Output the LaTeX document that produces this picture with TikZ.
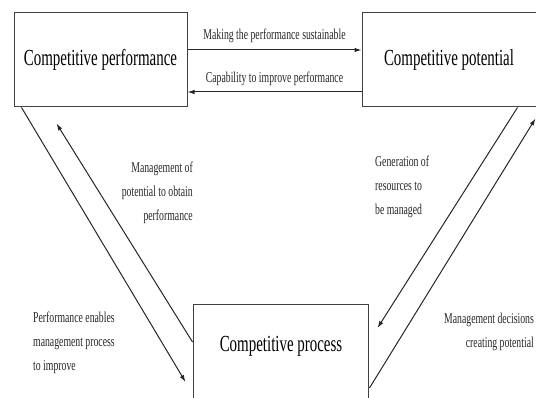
\documentclass[tikz,border=0pt]{standalone}
\usepackage{fontspec}
\usetikzlibrary{arrows.meta}
\newfontfamily\figfont[FakeStretch=0.65]{Liberation Serif}
\newcommand{\boxfont}{\figfont\fontsize{23}{26}\selectfont}
\newcommand{\lblfont}{\figfont\fontsize{15}{24}\selectfont}

\begin{document}
\begin{tikzpicture}[x=1pt,y=-1pt,>={Latex[length=7pt,width=4.5pt]},
  box/.style={draw=black!75,line width=1pt,minimum width=173pt,minimum height=94pt,inner sep=0pt,font=\boxfont},
  lbl/.style={inner sep=0pt,font=\lblfont,text=black!85},
  link/.style={->,line width=1pt,black!85}]
  \useasboundingbox (0,0) rectangle (536,398);
  \node[box] (perf) at (100.5,60) {Competitive performance};
  \node[box,minimum width=179pt] (pot) at (451.5,60) {};
  \node[font=\boxfont,inner sep=0pt] (pottitle) at (449,60) {Competitive potential};
  \node[box,minimum width=175pt,minimum height=100pt] (proc) at (280.5,355) {};
  \node[font=\boxfont,inner sep=0pt] (proctitle) at (281,346) {Competitive process};
  % between the top boxes
  \draw[link] ([yshift=10pt]perf.east) -- ([yshift=10pt]pot.west)
    node[midway,above=7pt,lbl] (sustain) {Making the performance sustainable};
  \draw[link] ([yshift=-32pt]pot.west) -- ([yshift=-32pt]perf.east)
    node[midway,above=6pt,lbl] (capab) {Capability to improve performance};
  % left side
  \draw[link] ([xshift=8pt]perf.south west) -- ([xshift=-7pt,yshift=-27pt]proc.west);
  \draw[link] ([yshift=13pt]proc.west) -- ([xshift=43pt,yshift=-16pt]perf.south west);
  \node[lbl,align=right,anchor=east] (usepot) at (193,193)
    {Management of\\potential to obtain\\performance};
  \node[lbl,align=left,anchor=west] (enables) at (33,343)
    {Performance enables\\management process\\to improve};
  % right side
  \draw[link] ([xshift=-24pt]pot.south east) -- ([xshift=9pt,yshift=27pt]proc.east);
  \draw[link] ([xshift=1pt,yshift=-33pt]proc.east) -- ([xshift=-6pt,yshift=-11pt]pot.south east);
  \node[lbl,align=left,anchor=west] (resources) at (375,187)
    {Generation of\\resources to\\be managed};
  \node[lbl,align=right,anchor=east] (decisions) at (534,332)
    {Management decisions\\creating potential};
\end{tikzpicture}
\end{document}
